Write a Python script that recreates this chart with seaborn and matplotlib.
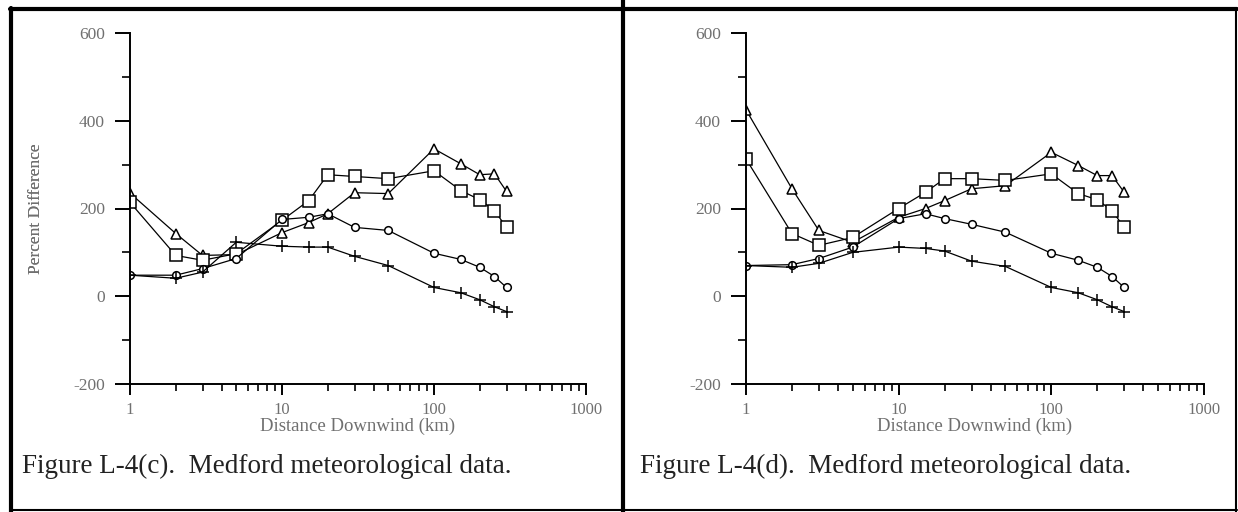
import numpy as np
import pandas as pd
import matplotlib
matplotlib.use("Agg")
import matplotlib.pyplot as plt
import matplotlib.ticker as mticker
from matplotlib.lines import Line2D
import seaborn as sns

# ---- data ----
distance_km = [1, 2, 3, 5, 10, 15, 20, 30, 50, 100, 150, 200, 250, 300]

c_triangle = [235, 143, 93, 95, 145, 168, 188, 236, 234, 336, 302, 277, 279, 239]
c_square = [214, 93, 82, 97, 173, 218, 277, 273, 268, 286, 241, 220, 195, 157]
c_circle = [48, 48, 63, 86, 175, 180, 188, 157, 150, 98, 84, 66, 45, 20]
c_plus = [48, 41, 55, 123, 114, 112, 112, 91, 70, 20, 8, -8, -24, -35]

d_triangle = [425, 245, 150, 123, 180, 200, 218, 245, 252, 328, 298, 275, 275, 237]
d_square = [313, 143, 116, 134, 200, 237, 268, 268, 264, 279, 234, 220, 195, 157]
d_circle = [70, 72, 86, 112, 177, 188, 177, 164, 146, 98, 82, 66, 45, 20]
d_plus = [70, 66, 75, 100, 112, 109, 103, 80, 68, 20, 8, -8, -24, -35]

series_names = ["triangle", "square", "circle", "plus"]
y_ticks = [-200, 0, 200, 400, 600]
x_ticks = [1, 10, 100, 1000]
x_tick_labels = ["1", "10", "100", "1000"]
captions = ["Figure L-4(c).  Medford meteorological data.",
            "Figure L-4(d).  Medford meteorological data."]
y_label = "Percent Difference"
x_label = "Distance Downwind (km)"

panels = [
    [c_triangle, c_square, c_circle, c_plus],
    [d_triangle, d_square, d_circle, d_plus],
]

sns.set_theme(style="ticks")
plt.rcParams["font.family"] = ["Liberation Serif", "DejaVu Serif"]

fig = plt.figure(figsize=(12.38, 5.12), dpi=100)
fig.patch.set_facecolor("white")

W, H = 1238, 512
axes_px = [(130, 586), (746, 1204)]
y_top, y_bot = 33, 384

markers = {"triangle": "^", "square": "s", "circle": "o", "plus": "+"}
msizes = {"triangle": 6.5, "square": 9, "circle": 5.5, "plus": 9}
gray = "#707070"

for i, (vals, (x0, x1)) in enumerate(zip(panels, axes_px)):
    ax = fig.add_axes([x0 / W, (H - y_bot) / H, (x1 - x0) / W, (y_bot - y_top) / H])
    ax.set_facecolor("white")
    for name, v in zip(series_names, vals):
        df = pd.DataFrame({"x": distance_km, "y": v})
        sns.lineplot(data=df, x="x", y="y", ax=ax, color="black", lw=0.9,
                     marker=markers[name], markersize=msizes[name],
                     markerfacecolor="white" if name != "plus" else "black",
                     markeredgecolor="black", markeredgewidth=1.1)
    ax.set_xscale("log")
    ax.set_xlim(1, 1000)
    ax.set_ylim(-200, 600)
    sns.despine(ax=ax)
    for sp in ["left", "bottom"]:
        ax.spines[sp].set_linewidth(1.4)
        ax.spines[sp].set_color("black")
    ax.set_yticks(y_ticks)
    ax.set_yticks([-100, 100, 300, 500], minor=True)
    ax.set_yticklabels([str(t) for t in y_ticks])
    ax.xaxis.set_major_locator(mticker.FixedLocator(x_ticks))
    ax.xaxis.set_major_formatter(mticker.FixedFormatter(x_tick_labels))
    ax.xaxis.set_minor_locator(mticker.LogLocator(base=10, subs=np.arange(2, 10)))
    ax.xaxis.set_minor_formatter(mticker.NullFormatter())
    ax.tick_params(axis="y", which="major", length=11, width=1.4, color="black",
                   labelsize=12.5, labelcolor=gray, pad=7)
    ax.tick_params(axis="x", which="major", length=8, width=1.4, color="black",
                   labelsize=12, labelcolor=gray, pad=5)
    ax.tick_params(axis="y", which="minor", length=6, width=1.2, color="black")
    ax.tick_params(axis="x", which="minor", length=5, width=1.2, color="black")
    ax.set_xlabel(x_label, fontsize=13.5, color=gray, labelpad=0)
    ax.set_ylabel(y_label, fontsize=12.5, color=gray)
    ax.yaxis.set_label_coords((44 - x0) / (x1 - x0), 0.5)
    ax.grid(False)
    cx = 22 if i == 0 else 640
    fig.text(cx / W, 1 - 466 / H, captions[i], fontsize=19.5, color="#222222",
             ha="left", va="center")

# frame lines
def hline(y, x0, x1, lw):
    fig.add_artist(Line2D([x0 / W, x1 / W], [1 - y / H, 1 - y / H], color="black", lw=lw,
                          transform=fig.transFigure))

def vline(x, y0, y1, lw):
    fig.add_artist(Line2D([x / W, x / W], [1 - y0 / H, 1 - y1 / H], color="black", lw=lw,
                          transform=fig.transFigure))

hline(9, 10, 1237, 3)
hline(510, 10, 1237, 1.5)
vline(11, 8, 512, 3)
vline(623, 0, 512, 3)
vline(1236, 8, 512, 1.5)

fig.savefig("out.png", dpi=100, facecolor="white")
